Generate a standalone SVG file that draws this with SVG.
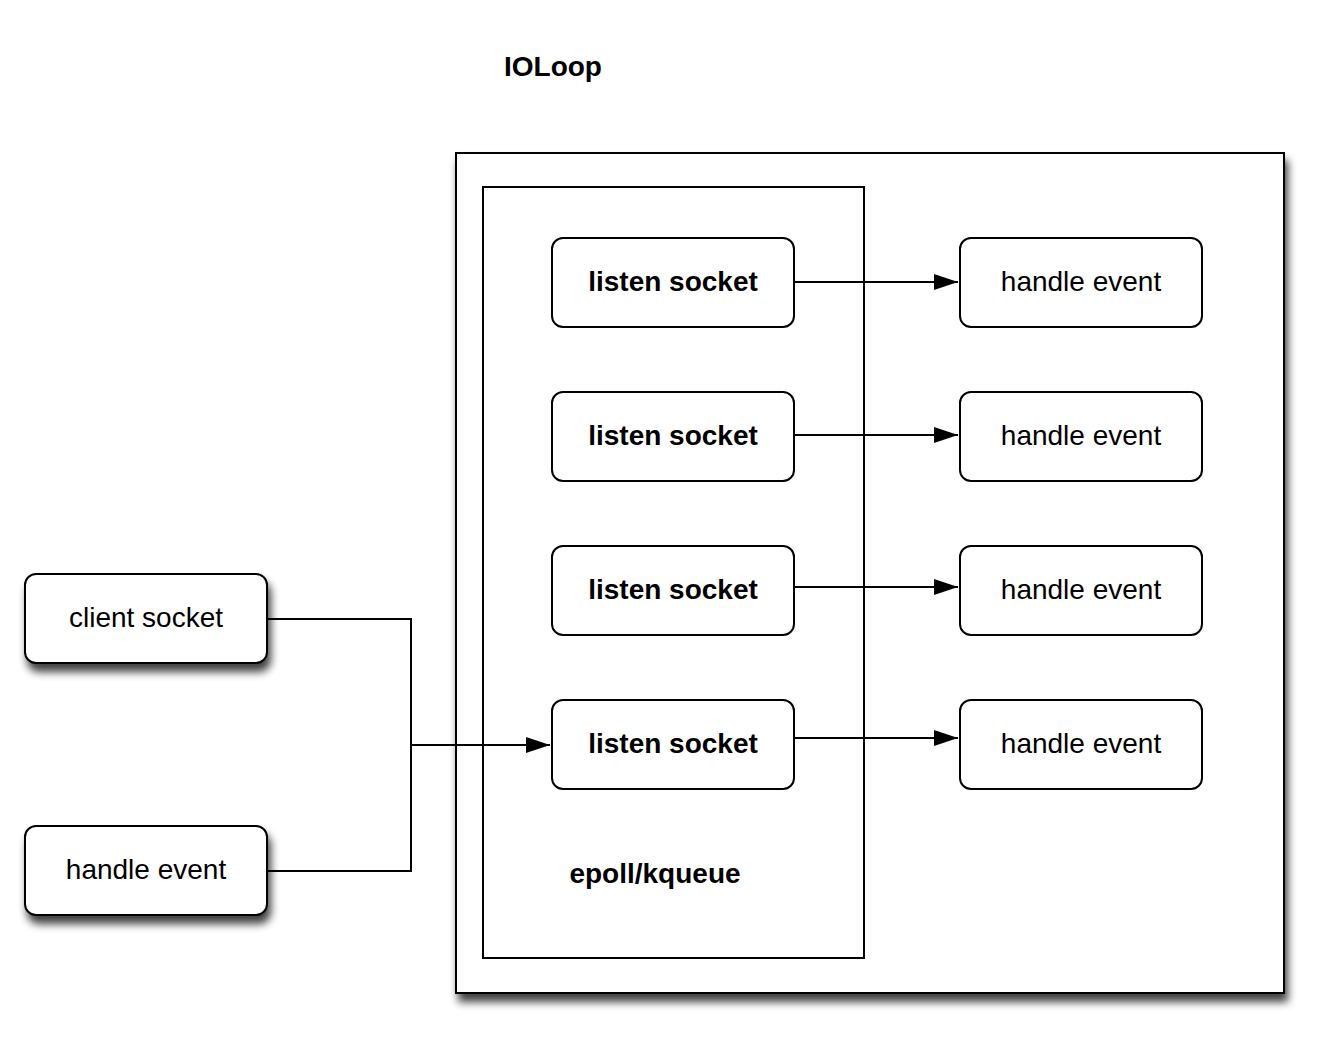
<svg xmlns="http://www.w3.org/2000/svg" width="1320" height="1049" viewBox="0 0 1320 1049">
<defs>
<filter id="sh" x="-10%" y="-10%" width="130%" height="140%">
<feGaussianBlur in="SourceAlpha" stdDeviation="4.5"/>
<feOffset dx="3" dy="8" result="b"/>
<feComponentTransfer><feFuncA type="linear" slope="0.75"/></feComponentTransfer>
<feMerge><feMergeNode/><feMergeNode in="SourceGraphic"/></feMerge>
</filter>
<marker id="ah" viewBox="0 0 24 16" refX="24" refY="8" markerWidth="24" markerHeight="16" markerUnits="userSpaceOnUse" orient="auto">
<path d="M0,0 L24,8 L0,16 Z" fill="#000"/>
</marker>
<style>
.box{fill:#fff;stroke:#000;stroke-width:2}
.node{fill:#fff;stroke:#000;stroke-width:2}
.b{font-family:"Liberation Sans",Arial,sans-serif;font-size:28px;font-weight:bold;text-anchor:middle;fill:#000}
.r{font-family:"Liberation Sans",Arial,sans-serif;font-size:28px;text-anchor:middle;fill:#000}
.c{fill:none;stroke:#000;stroke-width:2}
</style>
</defs>
<rect width="1320" height="1049" fill="#fff"/>
<text class="b" x="553" y="76">IOLoop</text>
<g id="ioloop"><rect class="box" x="456" y="153" width="828" height="840" filter="url(#sh)"/></g>
<g id="epoll"><rect class="box" x="483" y="187" width="381" height="771" stroke-width="1.8"/>
<text class="b" x="655" y="883">epoll/kqueue</text></g>
<g id="connectors">
<path class="c" d="M794,282 H958" marker-end="url(#ah)"/>
<path class="c" d="M794,435 H958" marker-end="url(#ah)"/>
<path class="c" d="M794,587 H958" marker-end="url(#ah)"/>
<path class="c" d="M794,738 H958" marker-end="url(#ah)"/>
<path class="c" d="M267,619 H411 V871 H267"/>
<path class="c" d="M411,745 H550" marker-end="url(#ah)"/>
</g>
<g id="ls1"><rect class="node" x="552" y="238" width="242" height="89" rx="11"/><text class="b" x="673" y="291">listen socket</text></g>
<g id="ls2"><rect class="node" x="552" y="392" width="242" height="89" rx="11"/><text class="b" x="673" y="445">listen socket</text></g>
<g id="ls3"><rect class="node" x="552" y="546" width="242" height="89" rx="11"/><text class="b" x="673" y="599">listen socket</text></g>
<g id="ls4"><rect class="node" x="552" y="700" width="242" height="89" rx="11"/><text class="b" x="673" y="753">listen socket</text></g>
<g id="he1"><rect class="node" x="960" y="238" width="242" height="89" rx="11"/><text class="r" x="1081" y="291">handle event</text></g>
<g id="he2"><rect class="node" x="960" y="392" width="242" height="89" rx="11"/><text class="r" x="1081" y="445">handle event</text></g>
<g id="he3"><rect class="node" x="960" y="546" width="242" height="89" rx="11"/><text class="r" x="1081" y="599">handle event</text></g>
<g id="he4"><rect class="node" x="960" y="700" width="242" height="89" rx="11"/><text class="r" x="1081" y="753">handle event</text></g>
<g id="client"><rect class="node" x="25" y="574" width="242" height="89" rx="11" filter="url(#sh)"/><text class="r" x="146" y="627">client socket</text></g>
<g id="he5"><rect class="node" x="25" y="826" width="242" height="89" rx="11" filter="url(#sh)"/><text class="r" x="146" y="879">handle event</text></g>
</svg>
